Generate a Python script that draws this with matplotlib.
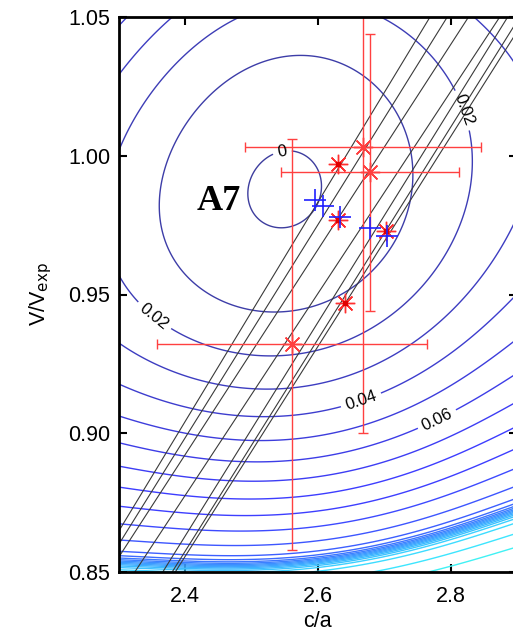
import numpy as np
import matplotlib
matplotlib.use('Agg')
import matplotlib.pyplot as plt
from matplotlib import cm

# contour samples: c/a, V/Vexp, level
LEV0_CA = [2.553, 2.501, 2.554, 2.606, 2.531, 2.584]
LEV0_V = [0.986, 0.987, 0.975, 0.990, 0.998, 0.997]
LEV0_F = [-0.002, 0.0, 0.0, 0.0, 0.0, 0.0]

LEV1_CA = [2.374, 2.400, 2.450, 2.510, 2.570, 2.653, 2.713, 2.743, 2.743, 2.709, 2.623, 2.536, 2.423, 2.373, 2.362]
LEV1_V = [0.996, 1.014, 1.028, 1.034, 1.035, 1.032, 1.020, 1.002, 0.979, 0.959, 0.947, 0.944, 0.954, 0.970, 0.989]

LEV2_CA = [2.299, 2.349, 2.400, 2.480, 2.674, 2.789, 2.825, 2.829, 2.755, 2.674, 2.554, 2.400, 2.304]
LEV2_V = [1.000, 1.020, 1.036, 1.049, 1.049, 1.026, 1.006, 0.979, 0.953, 0.942, 0.930, 0.934, 0.956]

LEV3_CA = [2.299, 2.377, 2.864, 2.894, 2.299, 2.450, 2.570]
LEV3_V = [1.028, 1.050, 1.050, 1.025, 0.932, 0.919, 0.917]

LEV4_CA = [2.299, 2.450, 2.570, 2.664, 2.307]
LEV4_V = [0.917, 0.907, 0.907, 0.913, 1.049]

LOW_CA = [2.299, 2.450, 2.570, 2.894,
          2.299, 2.570, 2.780, 2.894,
          2.299, 2.570, 2.894,
          2.570, 2.894,
          2.570, 2.894,
          2.570, 2.894,
          2.570, 2.894,
          2.894,
          2.300, 2.450, 2.600, 2.750, 2.894]
LOW_V = [0.906, 0.898, 0.898, 0.936,
         0.897, 0.890, 0.905, 0.921,
         0.888, 0.884, 0.908,
         0.877, 0.900,
         0.871, 0.893,
         0.864, 0.888,
         0.860, 0.881,
         0.877,
         0.8535, 0.8525, 0.8545, 0.861, 0.870]
LOW_F = [0.05, 0.05, 0.05, 0.05,
         0.06, 0.06, 0.06, 0.06,
         0.07, 0.07, 0.07,
         0.08, 0.08,
         0.09, 0.09,
         0.10, 0.10,
         0.11, 0.11,
         0.12,
         0.125, 0.125, 0.125, 0.125, 0.125]

# steep step near the bottom of the map
STEP_LEVEL = 0.125
STEP_HEIGHT = 0.10
STEP_WIDTH = 0.0022
TOP_LEVEL = 0.25

# black iso-lines: c/a where each one crosses V/Vexp = 0.90 and 1.05
ISO_AT_090 = [2.3895, 2.4045, 2.4211, 2.4618, 2.4964, 2.5115, 2.5175]
ISO_AT_105 = [2.769, 2.795, 2.827, 2.874, 2.886, 2.904, 2.914]

# computed points with error bars
ERR_CA = [2.668, 2.679, 2.561]
ERR_V = [1.003, 0.994, 0.932]
ERR_XERR = [0.178, 0.134, 0.203]
ERR_YERR = [0.103, 0.050, 0.074]

RED_CA = [2.630, 2.631, 2.702, 2.641]
RED_V = [0.997, 0.977, 0.973, 0.947]

BLUE_CA = [2.596, 2.608, 2.634, 2.679, 2.704]
BLUE_V = [0.984, 0.982, 0.978, 0.974, 0.971]

LABELLED = [0.0, 0.02, 0.04, 0.06]
LABEL_POS = [(2.548, 0.9995), (2.351, 0.9415), (2.807, 1.0154), (2.664, 0.9127), (2.780, 0.9048)]


def fit_surface():
    ca = np.concatenate([LEV0_CA, LEV1_CA, LEV2_CA, LEV3_CA, LEV4_CA, LOW_CA])
    v = np.concatenate([LEV0_V, LEV1_V, LEV2_V, LEV3_V, LEV4_V, LOW_V])
    f = np.concatenate([LEV0_F, np.full(len(LEV1_CA), 0.01), np.full(len(LEV2_CA), 0.02),
                        np.full(len(LEV3_CA), 0.03), np.full(len(LEV4_CA), 0.04), LOW_F])
    wt = np.ones_like(f)
    wt[:len(LEV0_CA)] = 3.0  # keep the small "0" loop tight
    u = (ca - 2.55) / 0.3
    w = (v - 0.95) / 0.1
    terms = [(i, j) for i in range(5) for j in range(5) if i + j <= 4]
    A = np.column_stack([u ** i * w ** j for i, j in terms])
    coef, *_ = np.linalg.lstsq(A * wt[:, None], f * wt, rcond=None)

    def surf(x, y):
        uu = (x - 2.55) / 0.3
        ww = (y - 0.95) / 0.1
        return sum(c * uu ** i * ww ** j for c, (i, j) in zip(coef, terms))
    return surf


def level_colors(lvls):
    # jet, washed towards white like thin antialiased lines
    c = cm.jet(np.clip(np.asarray(lvls) / 0.7, 0, 1))[:, :3]
    return [tuple(0.76 * rgb + 0.24) for rgb in c]


surf = fit_surface()
gx, gy = np.meshgrid(np.linspace(2.3, 2.9, 500), np.linspace(0.85, 1.05, 500))
Z = surf(gx, gy)
Z = Z + STEP_HEIGHT / (1 + np.exp(-(Z - STEP_LEVEL) / STEP_WIDTH))

plt.rcParams['font.family'] = ['Liberation Sans', 'DejaVu Sans']
fig = plt.figure(figsize=(5.13, 6.4), dpi=100)
ax = fig.add_axes([118.6 / 513, 68 / 640, (517 - 118.6) / 513, 555 / 640])

levels = np.round(np.arange(0, TOP_LEVEL + 0.001, 0.01), 2)
plain = [lv for lv in levels if not any(abs(lv - l) < 1e-9 for l in LABELLED)]
ax.contour(gx, gy, Z, levels=plain, colors=level_colors(plain), linewidths=1.0)
cs = ax.contour(gx, gy, Z, levels=LABELLED, colors=level_colors(LABELLED), linewidths=1.0)
ax.clabel(cs, manual=LABEL_POS, inline=True, fontsize=12, colors='k',
          fmt=lambda val: '0' if abs(val) < 1e-9 else f'{val:.2f}')

vv = np.array([0.80, 1.10])
for c90, c105 in zip(ISO_AT_090, ISO_AT_105):
    slope = (c105 - c90) / 0.15
    ax.plot(c90 + slope * (vv - 0.90), vv, color='#3a3a3a', lw=0.8)

ax.errorbar(ERR_CA, ERR_V, xerr=ERR_XERR, yerr=ERR_YERR, fmt='none', ecolor='#ff4040',
            elinewidth=1.0, capsize=3.5)
ax.plot(ERR_CA, ERR_V, ls='none', marker=(8, 2, 0), ms=14, mec='#ff4040', mew=1.0)
ax.plot(RED_CA, RED_V, ls='none', marker=(8, 2, 0), ms=14, mec='#ff3030', mew=1.0)
ax.plot(RED_CA, RED_V, ls='none', marker='s', ms=3, mfc='#e00000', mec='#e00000')
ax.plot(BLUE_CA, BLUE_V, ls='none', marker='+', ms=16, mec='#2020ff', mew=1.2)

ax.text(2.418, 0.9805, 'A7', family='Liberation Serif', fontweight='bold', fontsize=26)

ax.set_xlim(2.3, 2.9)
ax.set_ylim(0.85, 1.05)
ax.set_xticks([2.4, 2.6, 2.8])
ax.set_yticks([0.85, 0.90, 0.95, 1.00, 1.05])
ax.set_yticklabels(['0.85', '0.90', '0.95', '1.00', '1.05'])
ax.tick_params(direction='in', length=6, width=1.5, top=True, right=True, labelsize=15.5)
ax.tick_params(axis='x', pad=10)
ax.tick_params(axis='y', pad=6)
for s in ax.spines.values():
    s.set_linewidth(2)
ax.set_xlabel('c/a', fontsize=15.5, labelpad=3)
ax.set_ylabel('V/V$_{\\mathrm{exp}}$', fontsize=15.5, labelpad=10)

fig.savefig('out.png', dpi=100)
